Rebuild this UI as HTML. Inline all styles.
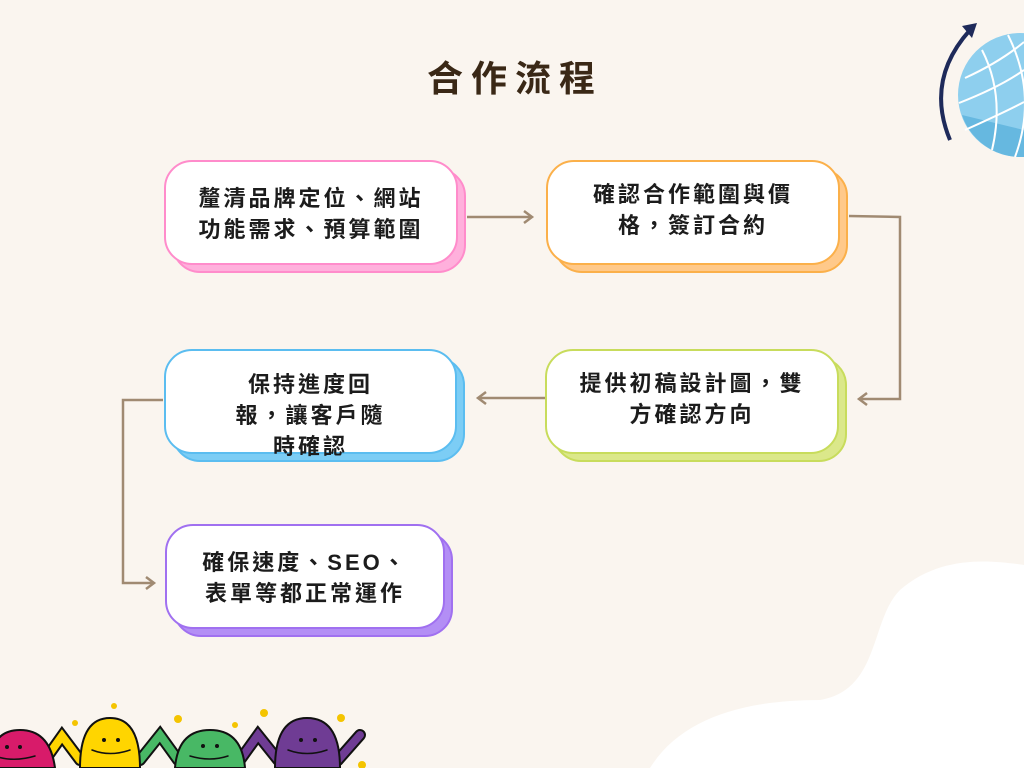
<!DOCTYPE html>
<html><head><meta charset="utf-8"><style>
body{margin:0;width:1024px;height:768px;background:#faf5ef;position:relative;overflow:hidden;font-family:"Liberation Sans","Noto Sans CJK TC",sans-serif}
.t{position:absolute;left:0;width:1024px;top:50px;text-align:center;font-size:36px;font-weight:bold;color:#3a2816;letter-spacing:8px;padding-left:6px;box-sizing:border-box}
.b{position:absolute;border-radius:28px;box-sizing:border-box}
.f{background:#fff;border:2px solid;display:flex;align-items:center;justify-content:center;text-align:center;font-size:22px;font-weight:bold;color:#1c1c1c;letter-spacing:3px;line-height:31px}
svg{position:absolute;left:0;top:0}
</style></head><body>
<svg width="1024" height="768">
<path d="M650 768 C680 720 740 700 820 700 C880 690 870 620 900 590 C940 555 990 560 1024 565 L1024 768Z" fill="#fff"/>
<circle cx="1020" cy="95" r="62" fill="#8ecfee"/>
<path d="M962 115 A62 62 0 0 0 1020 157 L1024 157 L1024 130 Z" fill="#66b8e0"/>
<g stroke="#fff" stroke-width="2" fill="none">
<path d="M982 50 Q1005 95 992 150"/><path d="M1008 35 Q1038 95 1015 157"/>
<path d="M965 78 Q1000 62 1024 42"/><path d="M959 103 Q1000 87 1024 70"/><path d="M965 130 Q1005 112 1024 102"/>
</g>
<path d="M950 140 Q925 80 970 30" stroke="#1e2a5a" stroke-width="4" fill="none"/>
<path d="M962 26 L977 23 L972 38Z" fill="#1e2a5a"/>
<g stroke="#a08a72" stroke-width="2.5" fill="none">
<path d="M467 217 H531"/><path d="M524 211 L532 217 L524 223"/>
<path d="M849 216 L900 217 V399 H860"/><path d="M867 393 L859 399 L867 405"/>
<path d="M545 398 H479"/><path d="M486 392 L478 398 L486 404"/>
<path d="M163 400 H123 V583 H153"/><path d="M146 577 L154 583 L146 589"/>
</g>
<g stroke-linecap="round" fill="none">
<path d="M45 760 L62 736 L80 760" stroke="#111" stroke-width="12"/><path d="M45 760 L62 736 L80 760" stroke="#ffd500" stroke-width="8"/>
<path d="M140 760 L160 735 L178 760" stroke="#111" stroke-width="12"/><path d="M140 760 L160 735 L178 760" stroke="#48b865" stroke-width="8"/>
<path d="M240 760 L258 735 L278 760" stroke="#111" stroke-width="12"/><path d="M240 760 L258 735 L278 760" stroke="#6f3c94" stroke-width="8"/>
<path d="M338 760 L360 735" stroke="#111" stroke-width="12"/><path d="M338 760 L360 735" stroke="#6f3c94" stroke-width="8"/>
</g>
<g stroke="#111" stroke-width="2">
<path d="M-10 768 Q-10 730 20 730 Q50 730 55 768Z" fill="#d81b6a"/>
<path d="M80 768 Q80 718 110 718 Q140 718 140 768Z" fill="#ffd500"/>
<path d="M175 768 Q178 730 210 730 Q242 730 245 768Z" fill="#48b865"/>
<path d="M275 768 Q275 718 307 718 Q340 718 340 768Z" fill="#6f3c94"/>
</g>
<g fill="none" stroke="#111" stroke-width="1.5" stroke-linecap="round"><path d="M-2 757 Q15 762 35 756"/><path d="M92 750 Q110 757 130 750"/><path d="M190 756 Q210 762 228 756"/><path d="M288 750 Q307 757 327 750"/></g>
<g fill="#111"><circle cx="7" cy="747" r="2"/><circle cx="20" cy="747" r="2"/><circle cx="104" cy="740" r="2"/><circle cx="118" cy="740" r="2"/><circle cx="203" cy="746" r="2"/><circle cx="217" cy="746" r="2"/><circle cx="301" cy="740" r="2"/><circle cx="315" cy="740" r="2"/></g>
<g fill="#f4c400"><circle cx="114" cy="706" r="3"/><circle cx="75" cy="723" r="3"/><circle cx="178" cy="719" r="4"/><circle cx="235" cy="725" r="3"/><circle cx="264" cy="713" r="4"/><circle cx="341" cy="718" r="4"/><circle cx="362" cy="765" r="4"/></g>
</svg>
<div class="t">合作流程</div>

<div class="b" style="left:172px;top:168px;width:294px;height:105px;background:#ffb0dc;border:2px solid #ff8ccb"></div>
<div class="b f" style="left:164px;top:160px;width:294px;height:105px;border-color:#ff8ccb;padding-top:3px">釐清品牌定位、網站<br>功能需求、預算範圍</div>

<div class="b" style="left:554px;top:168px;width:294px;height:105px;background:#ffc98a;border:2px solid #fbb04a"></div>
<div class="b f" style="left:546px;top:160px;width:294px;height:105px;border-color:#fbb04a;padding-bottom:6px">確認合作範圍與價<br>格，簽訂合約</div>

<div class="b" style="left:553px;top:357px;width:294px;height:105px;background:#dbe88a;border:2px solid #c8dc5c"></div>
<div class="b f" style="left:545px;top:349px;width:294px;height:105px;border-color:#c8dc5c;padding-bottom:6px">提供初稿設計圖，雙<br>方確認方向</div>

<div class="b" style="left:172px;top:357px;width:293px;height:105px;background:#7ccdf5;border:2px solid #5bbdf0"></div>
<div class="b f" style="left:164px;top:349px;width:293px;height:105px;border-color:#5bbdf0;padding-top:28px">保持進度回<br>報，讓客戶隨<br>時確認</div>

<div class="b" style="left:173px;top:532px;width:280px;height:105px;background:#b38ef5;border:2px solid #a070f0"></div>
<div class="b f" style="left:165px;top:524px;width:280px;height:105px;border-color:#a070f0;padding-top:3px">確保速度、SEO、<br>表單等都正常運作</div>
</body></html>
